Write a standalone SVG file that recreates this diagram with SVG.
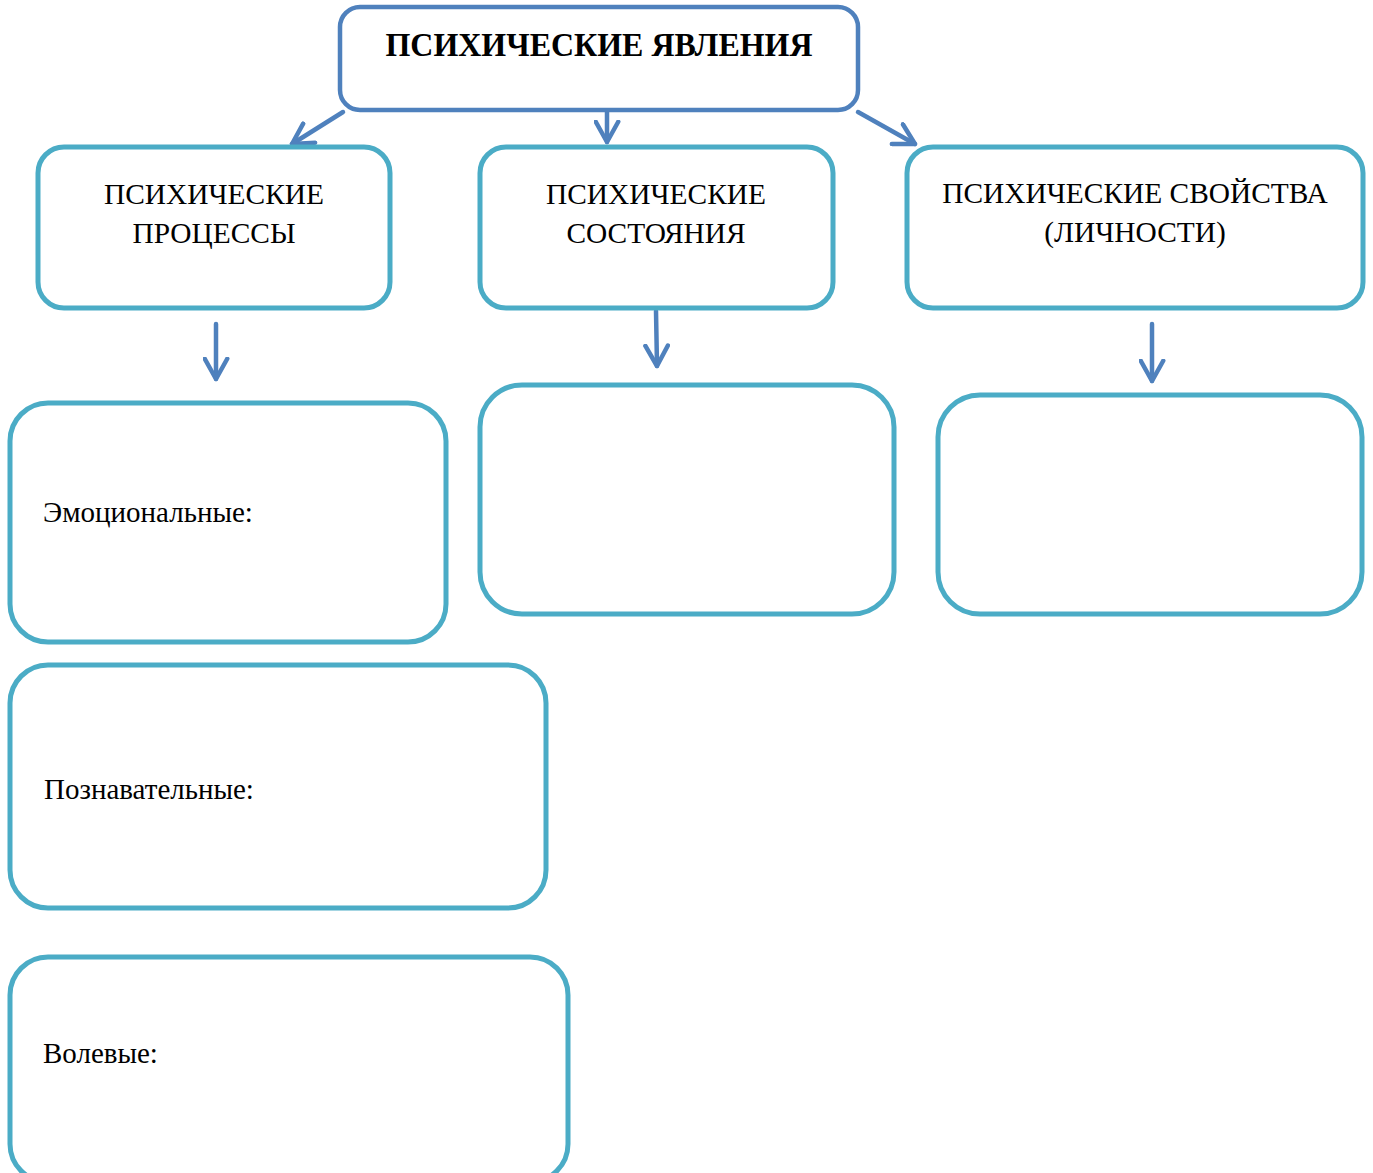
<svg xmlns="http://www.w3.org/2000/svg" width="1373" height="1173" viewBox="0 0 1373 1173">
<defs>
<style>
.top{fill:#fff;stroke:#4F81BD;stroke-width:4.5}
.box{fill:#fff;stroke:#4BACC6;stroke-width:5}
.t{font-family:"Liberation Serif","Times New Roman",serif;fill:#000}
.h{font-size:29.4px;text-anchor:middle}
.l{font-size:29px}
.b{font-size:34px;font-weight:bold;text-anchor:middle}
.c{fill:none;stroke:#4F81BD;stroke-width:4.5;stroke-linecap:round}
</style>
<marker id="ah" viewBox="0 0 12 12" refX="10" refY="6" markerWidth="6" markerHeight="6" orient="auto" markerUnits="strokeWidth">
<path d="M1,1 L10,6 L1,11" fill="none" stroke="#4F81BD" stroke-width="2" stroke-linecap="round" stroke-linejoin="round"/>
</marker>
</defs>
<rect width="1373" height="1173" fill="#fff"/>
<g id="connectors">
<line class="c" x1="343" y1="112" x2="292" y2="144" marker-end="url(#ah)"/>
<line class="c" x1="607" y1="110" x2="607" y2="142" marker-end="url(#ah)"/>
<line class="c" x1="858" y1="112" x2="915" y2="144" marker-end="url(#ah)"/>
<line class="c" x1="216" y1="324" x2="216" y2="379" marker-end="url(#ah)"/>
<line class="c" x1="656" y1="311" x2="657" y2="366" marker-end="url(#ah)"/>
<line class="c" x1="1152" y1="324" x2="1152" y2="381" marker-end="url(#ah)"/>
</g>
<g id="n-root">
<rect class="top" x="340" y="7" width="518" height="103" rx="20"/>
<text class="t b" x="599" y="56" textLength="427" lengthAdjust="spacingAndGlyphs">ПСИХИЧЕСКИЕ ЯВЛЕНИЯ</text>
</g>
<g id="n-processes">
<rect class="box" x="38" y="147" width="352" height="161" rx="26"/>
<text class="t h" x="214" y="204">ПСИХИЧЕСКИЕ</text>
<text class="t h" x="214" y="243">ПРОЦЕССЫ</text>
</g>
<g id="n-states">
<rect class="box" x="480" y="147" width="353" height="161" rx="26"/>
<text class="t h" x="656" y="204">ПСИХИЧЕСКИЕ</text>
<text class="t h" x="656" y="243">СОСТОЯНИЯ</text>
</g>
<g id="n-properties">
<rect class="box" x="907" y="147" width="456" height="161" rx="26"/>
<text class="t h" x="1135" y="203">ПСИХИЧЕСКИЕ СВОЙСТВА</text>
<text class="t h" x="1135" y="242">(ЛИЧНОСТИ)</text>
</g>
<g id="n-emotional">
<rect class="box" x="10" y="403" width="436" height="239" rx="38"/>
<text class="t l" x="43" y="522">Эмоциональные:</text>
</g>
<g id="n-states-list">
<rect class="box" x="480" y="385" width="414" height="229" rx="42"/>
</g>
<g id="n-properties-list">
<rect class="box" x="938" y="395" width="424" height="219" rx="42"/>
</g>
<g id="n-cognitive">
<rect class="box" x="10" y="665" width="536" height="243" rx="38"/>
<text class="t l" x="44" y="799">Познавательные:</text>
</g>
<g id="n-volitional">
<rect class="box" x="10" y="957" width="558" height="225" rx="38"/>
<text class="t l" x="43" y="1063">Волевые:</text>
</g>
</svg>
